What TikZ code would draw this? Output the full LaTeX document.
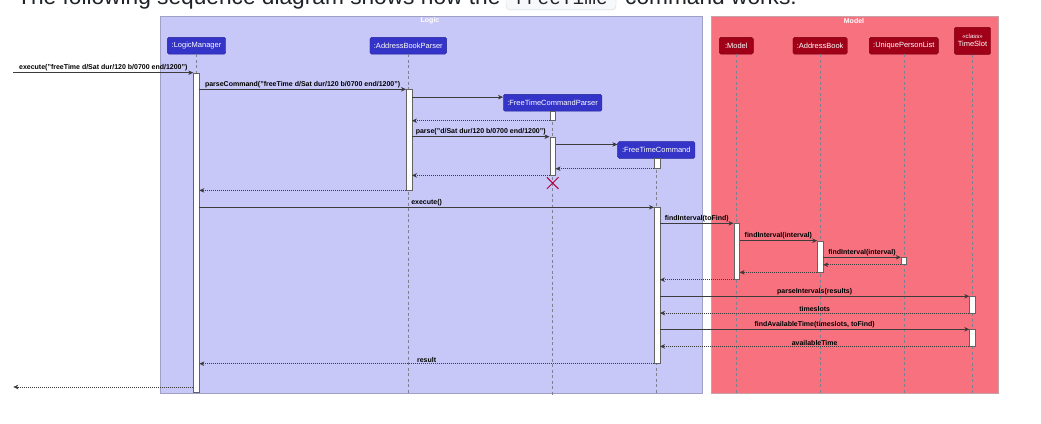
\documentclass[tikz,border=0pt]{standalone}
\usepackage{fontspec}
\setmainfont{Liberation Sans}
\setmonofont{Liberation Mono}
\usetikzlibrary{arrows.meta,shapes.misc}
\definecolor{logicfill}{HTML}{C8C8F8}
\definecolor{logicline}{HTML}{A0A0C4}
\definecolor{modelfill}{HTML}{F8717F}
\definecolor{modelline}{HTML}{C8A0A8}
\definecolor{partblue}{HTML}{3434C8}
\definecolor{partblueline}{HTML}{24249C}
\definecolor{partred}{HTML}{A00018}
\definecolor{partredline}{HTML}{780010}
\definecolor{msgline}{HTML}{3C3C3C}
\definecolor{lifegray}{HTML}{808090}
\definecolor{killred}{HTML}{B0003C}
\definecolor{codefill}{HTML}{F6F8FA}
\definecolor{codeline}{HTML}{D0D7DE}
\definecolor{headtext}{HTML}{1F2328}

\begin{document}
\begin{tikzpicture}[x=1pt,y=-1pt,
  >={Stealth[length=5pt,width=4.5pt,inset=1.5pt]},
  logicpart/.style={draw=partblueline,fill=partblue,text=white,rounded corners=1.5pt,
    minimum height=16.7pt,inner sep=0pt,font=\fontsize{7.5}{8}\selectfont},
  modelpart/.style={logicpart,draw=partredline,fill=partred},
  act/.style={draw=msgline!80,fill=white,minimum width=5.6pt,inner sep=0pt,anchor=north},
  lifeline/.style={lifegray,line width=.5pt,dash pattern=on 3pt off 2.5pt},
  call/.style={msgline,->,line width=.6pt},
  reply/.style={msgline,->,line width=.6pt,dash pattern=on 1pt off 1pt},
  msg/.style={font=\fontsize{7}{8}\bfseries\selectfont,text=black,inner sep=1pt,above},
  frametitle/.style={text=white,font=\fontsize{7}{8}\bfseries\selectfont},
  headline/.style={text=headtext,inner sep=0pt,anchor=base west,font=\fontsize{22.7}{26}\selectfont}
]
  \fill[white] (0,0) rectangle (1041,423);
  \useasboundingbox (0,0) rectangle (1041,423);

  % header line of the page, cut off at the top
  \node[headline] (head) at (17,4.5) {The following sequence diagram shows how the};
  \node[draw=codeline,fill=codefill,rounded corners=4pt,minimum width=110pt,
    minimum height=40pt,anchor=south] (code) at (561,10) {};
  \node[text=headtext,anchor=base,font=\ttfamily\fontsize{19.5}{22}\selectfont] (codetext) at (561,4.5) {freeTime};
  \node[headline] (tail) at (625,4.5) {command works.};

  % frames
  \draw[logicline,fill=logicfill] (160,16) rectangle (702.5,393);
  \node[frametitle] (logictitle) at (430,21) {Logic};
  \draw[modelline,fill=modelfill] (711.5,16) rectangle (998,393);
  \node[frametitle] (modeltitle) at (854,21) {Model};

  % participants
  \node[logicpart,minimum width=58.4pt] (lm) at (196.5,45.7) {:LogicManager};
  \node[logicpart,minimum width=76.7pt] (abp) at (408.3,45.7) {:AddressBookParser};
  \node[logicpart,minimum width=98.7pt] (ftcp) at (552.6,102.7) {:FreeTimeCommandParser};
  \node[logicpart,minimum width=77.3pt] (ftc) at (656.3,150) {:FreeTimeCommand};
  \node[modelpart,minimum width=34pt] (model) at (736.3,45.7) {:Model};
  \node[modelpart,minimum width=54.3pt] (ab) at (820.1,45.7) {:AddressBook};
  \node[modelpart,minimum width=69pt] (upl) at (903.8,45.7) {:UniquePersonList};
  \node[modelpart,minimum width=36.4pt,minimum height=27pt,align=center] (ts) at (972.5,40.8)
    {{\fontsize{6}{7}\selectfont«class»}\\TimeSlot};

  \coordinate (bottom) at (0,395);
  \foreach \p in {lm,abp,ftcp,ftc,model,ab,upl,ts}
    \draw[lifeline] (\p.south) -- (\p.south |- bottom);

  % activations
  \node[act,minimum height=319.3pt] (lmA) at (196.3,72.7) {};
  \node[act,minimum height=100.7pt] (abpA) at (409,89.3) {};
  \node[act,minimum height=9.3pt] (ftcpA) at (552.5,111) {};
  \node[act,minimum height=38.3pt] (ftcpB) at (552.5,136.7) {};
  \node[act,minimum height=10pt] (ftcA) at (657,158.3) {};
  \node[act,minimum height=156pt] (ftcB) at (657,207.3) {};
  \node[act,minimum height=56pt] (modA) at (736.5,223.3) {};
  \node[act,minimum height=31.3pt] (abA) at (820.2,240.7) {};
  \node[act,minimum height=7pt] (uplA) at (903.8,257.3) {};
  \node[act,minimum height=16.4pt] (tsA) at (972.3,296.3) {};
  \node[act,minimum height=16.7pt] (tsB) at (972.3,329.3) {};

  % messages
  \coordinate (entry) at (13.3,72.7);
  \coordinate (exit) at (13.3,387);
  \coordinate (ftcpin) at ([yshift=-3pt]ftcp.north west);
  \coordinate (ftcin) at ([yshift=-3pt]ftc.north west);
  \draw[call] (entry) -- node[msg] {execute("freeTime d/Sat dur/120 b/0700 end/1200")} (lmA.north west);
  \draw[call] (lmA.east |- abpA.north) -- node[msg] {parseCommand("freeTime d/Sat dur/120 b/0700 end/1200")} (abpA.north west);
  \draw[call] (abpA.east |- ftcpin) -- (ftcpin);
  \draw[reply] (ftcpA.south west) -- (abpA.east |- ftcpA.south);
  \draw[call] (abpA.east |- ftcpB.north) -- node[msg] {parse("d/Sat dur/120 b/0700 end/1200")} (ftcpB.north west);
  \draw[call] (ftcpB.east |- ftcin) -- (ftcin);
  \draw[reply] (ftcA.south west) -- (ftcpB.east |- ftcA.south);
  \draw[reply] (ftcpB.south west) -- (abpA.east |- ftcpB.south);
  \node[draw=killred,cross out,line width=1pt,minimum size=10.6pt,inner sep=0pt] (kill) at (552.7,183) {};
  \draw[reply] (abpA.south west) -- (lmA.east |- abpA.south);
  \draw[call] (lmA.east |- ftcB.north) -- node[msg] {execute()} (ftcB.north west);
  \draw[call] (ftcB.east |- modA.north) -- node[msg] {findInterval(toFind)} (modA.north west);
  \draw[call] (modA.east |- abA.north) -- node[msg] {findInterval(interval)} (abA.north west);
  \draw[call] (abA.east |- uplA.north) -- node[msg] {findInterval(interval)} (uplA.north west);
  \draw[reply] (uplA.south west) -- (abA.east |- uplA.south);
  \draw[reply] (abA.south west) -- (modA.east |- abA.south);
  \draw[reply] (modA.south west) -- (ftcB.east |- modA.south);
  \draw[call] (ftcB.east |- tsA.north) -- node[msg] {parseIntervals(results)} (tsA.north west);
  \draw[reply] (tsA.south west) -- node[msg] {timeslots} (ftcB.east |- tsA.south);
  \draw[call] (ftcB.east |- tsB.north) -- node[msg] {findAvailableTime(timeslots, toFind)} (tsB.north west);
  \draw[reply] (tsB.south west) -- node[msg] {availableTime} (ftcB.east |- tsB.south);
  \draw[reply] (ftcB.south west) -- node[msg] {result} (lmA.east |- ftcB.south);
  \draw[reply] (lmA.west |- exit) -- (exit);
\end{tikzpicture}
\end{document}
